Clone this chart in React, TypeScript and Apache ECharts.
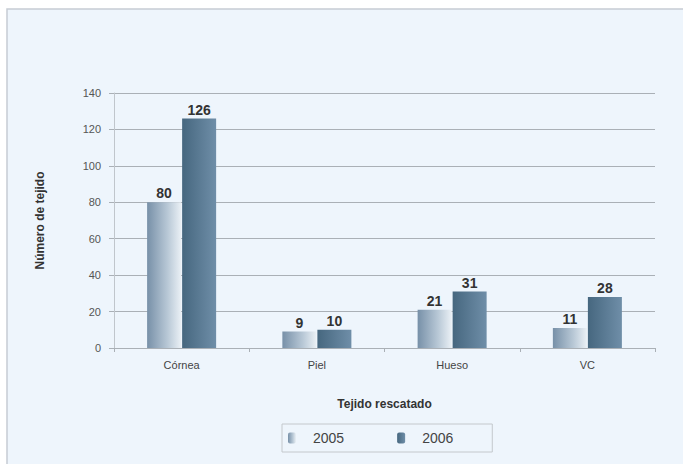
import React, { useEffect, useRef } from "react";
import * as echarts from "echarts";

const categories = ["Córnea", "Piel", "Hueso", "VC"];
const values2005 = [80, 9, 21, 11];
const values2006 = [126, 10, 31, 28];
const seriesNames = ["2005", "2006"];

const grad2005 = () =>
  new echarts.graphic.LinearGradient(0, 0, 1, 0, [
    { offset: 0, color: "#7790a8" },
    { offset: 0.6, color: "#b8c8d6" },
    { offset: 1, color: "#eaf0f5" },
  ]);
const grad2006 = () =>
  new echarts.graphic.LinearGradient(0, 0, 1, 0, [
    { offset: 0, color: "#46677f" },
    { offset: 1, color: "#6f8ea8" },
  ]);

export default function App() {
  const ref = useRef<HTMLDivElement>(null);
  useEffect(() => {
    if (!ref.current) return;
    const chart = echarts.init(ref.current, null, { renderer: "svg" });
    const font = "Liberation Sans, Arial, sans-serif";
    const label = {
      show: true,
      position: "top",
      distance: 2,
      fontFamily: font,
      fontSize: 14,
      fontWeight: "bold",
      color: "#333",
    };
    chart.setOption({
      animation: false,
      backgroundColor: "#ffffff",
      textStyle: { fontFamily: font },
      graphic: [
        {
          type: "rect",
          z: -10,
          silent: true,
          shape: { x: 7, y: 9, width: 680, height: 460 },
          style: { fill: "#eef5fc", stroke: "#c6ccd3", lineWidth: 1.5 },
        },
      ],
      grid: { left: 114, right: 28, top: 93, bottom: 116 },
      legend: {
        left: 282,
        top: 424,
        data: seriesNames,
        borderColor: "#c4c8cc",
        borderWidth: 1,
        padding: [7, 39, 7, 6],
        itemWidth: 8,
        itemHeight: 11,
        itemGap: 53,
        textStyle: { fontFamily: font, fontSize: 14, color: "#444", padding: [0, 0, 0, 12] },
      },
      xAxis: {
        type: "category",
        data: categories,
        name: "Tejido rescatado",
        nameLocation: "middle",
        nameGap: 50,
        nameTextStyle: { fontFamily: font, fontSize: 12, fontWeight: "bold", color: "#333" },
        axisLine: { lineStyle: { color: "#aab0b6" } },
        axisTick: { show: true, length: 4, lineStyle: { color: "#aab0b6" } },
        axisLabel: { fontFamily: font, fontSize: 11, color: "#444", margin: 11 },
      },
      yAxis: {
        type: "value",
        min: 0,
        max: 140,
        interval: 20,
        name: "Número de tejido",
        nameLocation: "middle",
        nameGap: 68,
        nameTextStyle: { fontFamily: font, fontSize: 12, fontWeight: "bold", color: "#333" },
        axisLine: { show: true, lineStyle: { color: "#c0c6cc" } },
        axisTick: { show: true, length: 5, lineStyle: { color: "#aab0b6" } },
        axisLabel: { fontFamily: font, fontSize: 11, color: "#555", margin: 13 },
        splitLine: { lineStyle: { color: "#aab0b6", width: 1 } },
      },
      series: [
        {
          name: seriesNames[0],
          type: "bar",
          data: values2005,
          barWidth: 34,
          barGap: "3%",
          itemStyle: { color: grad2005() },
          label,
        },
        {
          name: seriesNames[1],
          type: "bar",
          data: values2006,
          barWidth: 34,
          itemStyle: { color: grad2006() },
          label,
        },
      ],
    });
    return () => chart.dispose();
  }, []);
  return (
    <div
      ref={ref}
      style={{ position: "absolute", left: 0, top: 0, width: 683, height: 464 }}
    />
  );
}
